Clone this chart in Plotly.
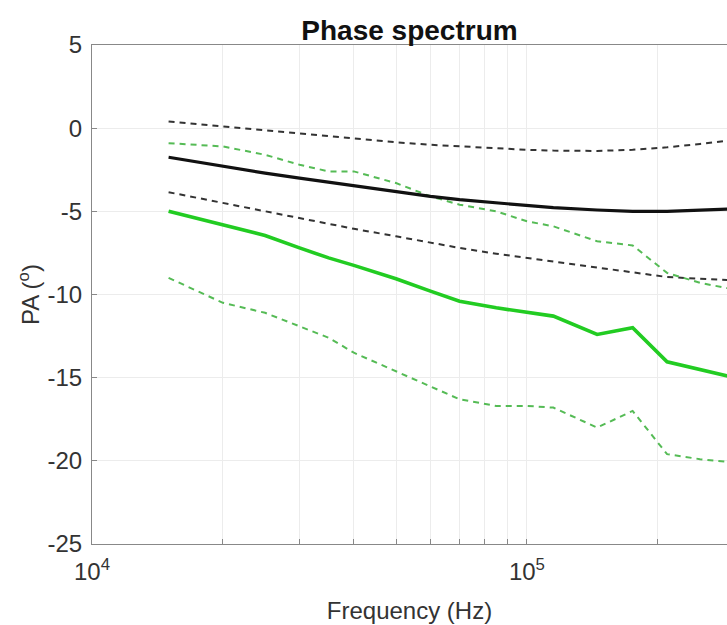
import plotly.graph_objects as go

freq_hz = [15e3, 20e3, 25e3, 30e3, 35e3, 40e3, 50e3, 60e3, 70e3, 85e3,
           100e3, 115e3, 145e3, 175e3, 210e3, 250e3, 300e3]

model_mean = [-1.75, -2.3, -2.7, -3.0, -3.25, -3.45, -3.8, -4.1, -4.3, -4.5,
              -4.65, -4.78, -4.92, -5.0, -5.0, -4.95, -4.85]
model_upper = [0.4, 0.1, -0.15, -0.35, -0.5, -0.65, -0.85, -1.0, -1.1, -1.2,
               -1.3, -1.35, -1.37, -1.3, -1.15, -0.95, -0.7]
model_lower = [-3.85, -4.5, -5.0, -5.4, -5.75, -6.05, -6.5, -6.9, -7.2, -7.55,
               -7.8, -8.05, -8.4, -8.7, -8.95, -9.05, -9.15]

meas_mean = [-5.0, -5.8, -6.45, -7.2, -7.8, -8.25, -9.05, -9.8, -10.4, -10.8,
             -11.05, -11.3, -12.4, -12.0, -14.05, -14.5, -15.0]
meas_upper = [-0.9, -1.1, -1.6, -2.2, -2.6, -2.6, -3.3, -4.1, -4.6, -5.0,
              -5.6, -5.9, -6.8, -7.05, -8.7, -9.3, -9.7]
meas_lower = [-9.0, -10.5, -11.1, -11.9, -12.6, -13.5, -14.6, -15.5, -16.3, -16.7,
              -16.7, -16.8, -18.0, -17.0, -19.6, -19.9, -20.1]

x_tickvals = [1e4, 2e4, 3e4, 4e4, 5e4, 6e4, 7e4, 8e4, 9e4, 1e5, 2e5]
x_ticktext = ["10<sup>4</sup>", "", "", "", "", "", "", "", "", "10<sup>5</sup>", ""]
y_tickvals = [5, 0, -5, -10, -15, -20, -25]
y_ticktext = ["5", "0", "-5", "-10", "-15", "-20", "-25"]

BLACK = "#111111"
GREEN = "#22cc22"
GREEN_D = "#55bb55"
DARK_D = "#333333"

fig = go.Figure()
fig.add_trace(go.Scatter(x=freq_hz, y=model_upper, mode="lines",
                         line=dict(color=DARK_D, width=2, dash="6px,5px")))
fig.add_trace(go.Scatter(x=freq_hz, y=model_lower, mode="lines",
                         line=dict(color=DARK_D, width=2, dash="6px,5px")))
fig.add_trace(go.Scatter(x=freq_hz, y=meas_upper, mode="lines",
                         line=dict(color=GREEN_D, width=2, dash="6px,5px")))
fig.add_trace(go.Scatter(x=freq_hz, y=meas_lower, mode="lines",
                         line=dict(color=GREEN_D, width=2, dash="6px,5px")))
fig.add_trace(go.Scatter(x=freq_hz, y=model_mean, mode="lines",
                         line=dict(color=BLACK, width=3.2)))
fig.add_trace(go.Scatter(x=freq_hz, y=meas_mean, mode="lines",
                         line=dict(color=GREEN, width=3.6)))

fig.update_layout(
    width=727, height=625,
    margin=dict(l=92, r=0, t=45, b=81),
    paper_bgcolor="white", plot_bgcolor="white",
    showlegend=False,
    font=dict(family="Liberation Sans, Arial, sans-serif", color="#262626"),
    title=dict(text="<b>Phase spectrum</b>", x=0.5, xref="paper",
               y=0.952, yref="container", xanchor="center", yanchor="middle",
               font=dict(size=28, color="#111111")),
)
fig.update_xaxes(
    type="log", range=[4, 5.46],
    tickmode="array", tickvals=x_tickvals, ticktext=x_ticktext,
    ticks="inside", ticklen=5, tickcolor="#888888",
    showgrid=True, gridcolor="#ececec", gridwidth=1,
    showline=True, linecolor="#888888", linewidth=1, mirror=True,
    tickfont=dict(size=24, color="#333333"),
    ticklabelstandoff=6,
    title=dict(text="Frequency (Hz)", font=dict(size=24, color="#333333"), standoff=18),
    zeroline=False,
)
fig.update_yaxes(
    range=[-25, 5],
    tickmode="array", tickvals=y_tickvals, ticktext=y_ticktext,
    ticks="inside", ticklen=5, tickcolor="#888888",
    showgrid=True, gridcolor="#ececec", gridwidth=1,
    showline=True, linecolor="#888888", linewidth=1,
    tickfont=dict(size=24, color="#333333"),
    ticklabelstandoff=4,
    title=dict(text="PA (<sup>o</sup>)", font=dict(size=24, color="#333333"), standoff=1),
    zeroline=False,
)

fig.write_html(
    "out.html",
    config={"displayModeBar": False},
    post_script="document.body.style.margin='0';document.body.style.overflow='hidden';",
)
